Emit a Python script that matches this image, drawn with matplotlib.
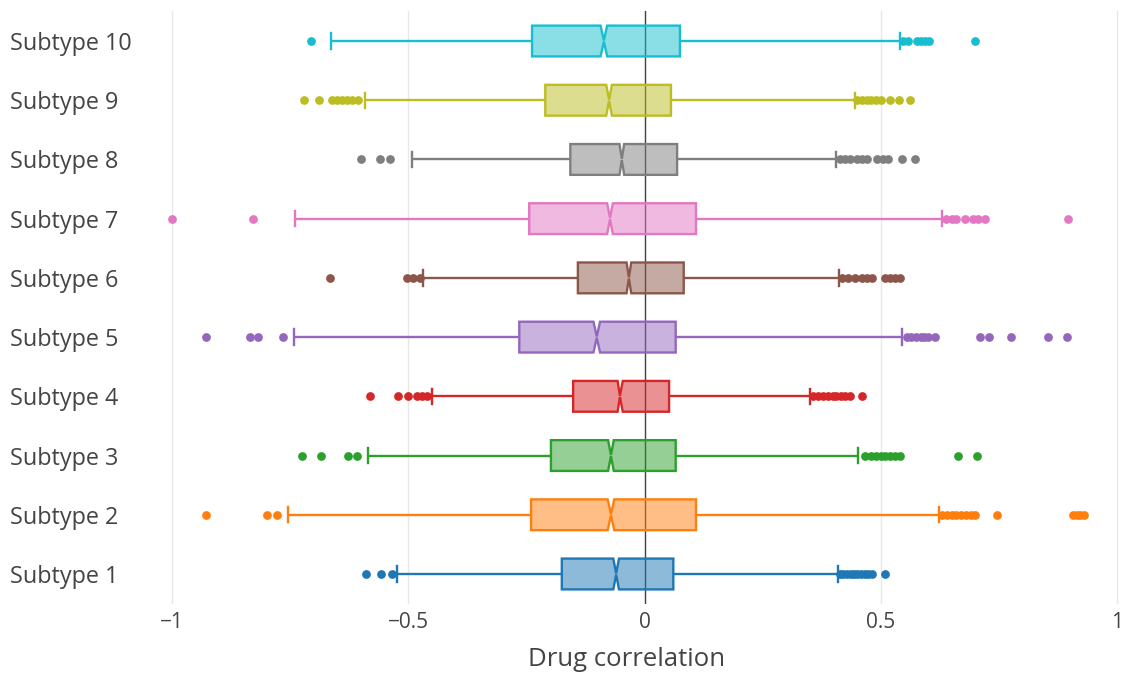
import matplotlib
matplotlib.use("Agg")
import matplotlib.pyplot as plt
from matplotlib.patches import Polygon

plt.rcParams['font.family'] = ['Open Sans', 'DejaVu Sans']

categories = ["Subtype 1", "Subtype 2", "Subtype 3", "Subtype 4", "Subtype 5",
              "Subtype 6", "Subtype 7", "Subtype 8", "Subtype 9", "Subtype 10"]
colors = ["#1f77b4", "#ff7f0e", "#2ca02c", "#d62728", "#9467bd",
          "#8c564b", "#e377c2", "#7f7f7f", "#bcbd22", "#17becf"]

q1 = [-0.175, -0.240, -0.198, -0.151, -0.265, -0.141, -0.244, -0.157, -0.210, -0.238]
median = [-0.060, -0.071, -0.071, -0.052, -0.101, -0.033, -0.073, -0.048, -0.075, -0.086]
q3 = [0.061, 0.109, 0.066, 0.052, 0.066, 0.083, 0.109, 0.069, 0.056, 0.075]
notch_lo = [-0.066, -0.078, -0.077, -0.057, -0.108, -0.038, -0.079, -0.053, -0.081, -0.093]
notch_hi = [-0.054, -0.064, -0.065, -0.046, -0.094, -0.028, -0.067, -0.043, -0.069, -0.079]
whisker_lo = [-0.523, -0.754, -0.585, -0.449, -0.741, -0.468, -0.739, -0.492, -0.591, -0.663]
whisker_hi = [0.409, 0.623, 0.451, 0.350, 0.546, 0.411, 0.629, 0.405, 0.445, 0.540]

outliers = [
    [-0.589, -0.557, -0.534, 0.413, 0.42, 0.428, 0.436, 0.443, 0.45, 0.458, 0.466, 0.473, 0.481, 0.508],
    [-0.927, -0.800, -0.777, 0.629, 0.64, 0.65, 0.66, 0.67, 0.68, 0.69, 0.699, 0.745, 0.906, 0.915, 0.922, 0.931],
    [-0.724, -0.684, -0.627, -0.608, 0.466, 0.48, 0.49, 0.50, 0.51, 0.52, 0.53, 0.54, 0.663, 0.703],
    [-0.580, -0.521, -0.500, -0.481, -0.47, -0.460, 0.357, 0.367, 0.378, 0.388, 0.398, 0.406, 0.415, 0.425, 0.434, 0.460],
    [-0.927, -0.834, -0.819, -0.766, 0.555, 0.565, 0.575, 0.585, 0.592, 0.599, 0.614, 0.709, 0.730, 0.775, 0.853, 0.895],
    [-0.665, -0.502, -0.49, -0.475, 0.417, 0.43, 0.445, 0.46, 0.47, 0.481, 0.508, 0.52, 0.53, 0.540],
    [-1.000, -0.828, 0.639, 0.65, 0.66, 0.678, 0.695, 0.705, 0.720, 0.897],
    [-0.600, -0.559, -0.538, 0.413, 0.424, 0.434, 0.449, 0.46, 0.470, 0.493, 0.504, 0.515, 0.546, 0.572],
    [-0.720, -0.688, -0.661, -0.65, -0.64, -0.63, -0.618, -0.606, 0.449, 0.46, 0.47, 0.48, 0.49, 0.50, 0.519, 0.538, 0.561],
    [-0.705, 0.547, 0.557, 0.576, 0.585, 0.594, 0.603, 0.699],
]

xticks = [-1, -0.5, 0, 0.5, 1]
xticklabels = ["\u22121", "\u22120.5", "0", "0.5", "1"]
xlabel = "Drug correlation"

W, H = 1126, 677
fig = plt.figure(figsize=(W / 100, H / 100), dpi=100)
ax = fig.add_axes([150 / W, 1 - 603.6 / H, (1120 - 150) / W, (603.6 - 11.4) / H])

half = 0.26
cap = 0.13
lw = 1.7
for i in range(len(categories)):
    c = colors[i]
    y = i
    pts = [(q1[i], y - half), (notch_lo[i], y - half), (median[i], y - 0.01),
           (notch_hi[i], y - half), (q3[i], y - half), (q3[i], y + half),
           (notch_hi[i], y + half), (median[i], y + 0.01), (notch_lo[i], y + half),
           (q1[i], y + half)]
    ax.add_patch(Polygon(pts, closed=True, facecolor=c, alpha=0.5, edgecolor='none', zorder=3))
    ax.add_patch(Polygon(pts, closed=True, facecolor='none', edgecolor=c, linewidth=lw,
                         joinstyle='miter', zorder=4))
    ax.plot([whisker_lo[i], q1[i]], [y, y], color=c, lw=lw, zorder=3, solid_capstyle='butt')
    ax.plot([q3[i], whisker_hi[i]], [y, y], color=c, lw=lw, zorder=3, solid_capstyle='butt')
    ax.plot([whisker_lo[i], whisker_lo[i]], [y - cap, y + cap], color=c, lw=lw, zorder=3)
    ax.plot([whisker_hi[i], whisker_hi[i]], [y - cap, y + cap], color=c, lw=lw, zorder=3)
    ax.plot(outliers[i], [y] * len(outliers[i]), 'o', color=c, markersize=6.3,
            markeredgewidth=0, zorder=5)

ax.axvline(0, color='#444444', lw=1.0, zorder=2)
ax.set_xlim(-1 - 22 / 472.5, 1 + (1120 - 1117) / 472.5)
ax.set_ylim(-0.5, len(categories) - 0.5)
ax.set_xticks(xticks)
ax.set_xticklabels(xticklabels)
ax.set_yticks(range(len(categories)))
ax.set_yticklabels(categories)
for lab in ax.get_yticklabels():
    lab.set_horizontalalignment('left')
ax.grid(axis='x', color='#e8e8e8', lw=1, zorder=0)
ax.set_axisbelow(True)
for s in ax.spines.values():
    s.set_visible(False)
ax.tick_params(axis='x', length=0, labelsize=15, colors='#444444', pad=6)
ax.tick_params(axis='y', length=0, labelsize=16.8, colors='#444444', pad=(150 - 10) * 0.72)
ax.set_xlabel(xlabel, fontsize=18.5, color='#444444', labelpad=10)
ax.xaxis.label.set_x((627 - 150) / 970)

fig.savefig("out.png", dpi=100)
